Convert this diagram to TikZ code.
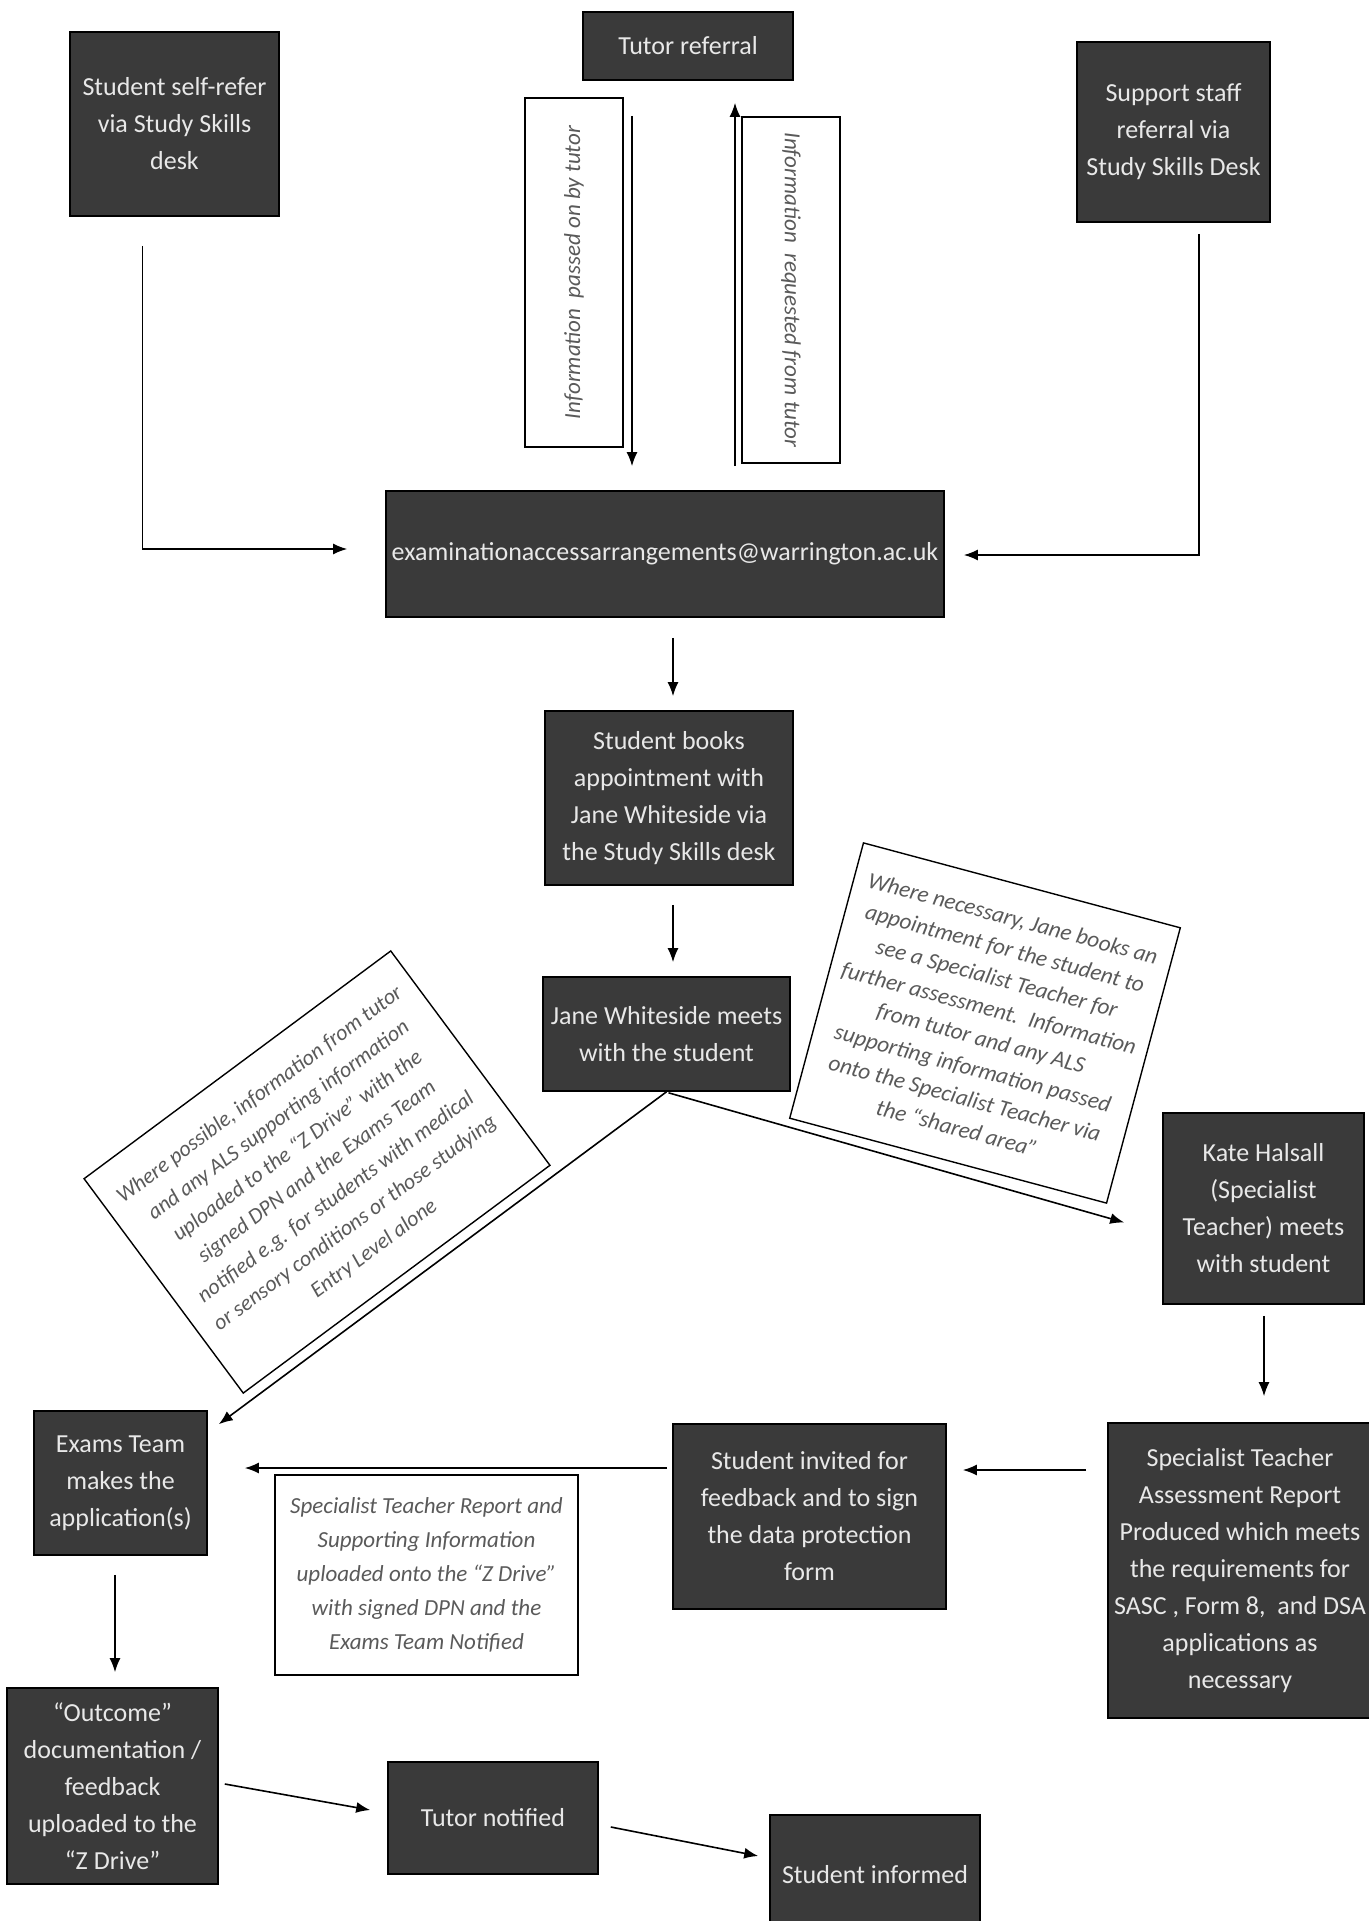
\documentclass[tikz,border=0pt]{standalone}
\usepackage{fontspec}
\setmainfont{Carlito}
\usetikzlibrary{calc,arrows.meta}

\definecolor{boxgray}{HTML}{3A3A3A}
\definecolor{boxtext}{HTML}{E8E8E8}
\definecolor{notetext}{HTML}{5A5A5A}

\tikzset{
	darkbox/.style={draw=black, line width=0.8pt, fill=boxgray, text=boxtext, align=center, inner sep=0pt, font=\fontsize{13}{18.5}\selectfont},
	notebox/.style={draw=black, line width=0.7pt, fill=white, text=notetext, align=center, inner sep=0pt, font=\fontsize{11}{16}\selectfont\itshape},
	link/.style={line width=0.8pt, -{Latex[length=7pt,width=5.5pt]}},
}

\begin{document}
\begin{tikzpicture}[x=0.5pt,y=-0.5pt]
	\fill[white] (0,0) rectangle (1369,1921);
	\useasboundingbox (0,0) rectangle (1369,1921);
	
	%referrals
	\node[darkbox, minimum width=104.5pt, minimum height=92pt] (selfref) at (174.5,124) {Student self-refer\\via Study Skills\\desk};
	\node[darkbox, minimum width=105pt, minimum height=34pt] (tutorref) at (688,46) {Tutor referral};
	\node[darkbox, minimum width=96.5pt, minimum height=90pt] (support) at (1173.5,132) {Support staff\\referral via\\Study Skills Desk};
	%
	\node[notebox, rotate=90, minimum width=174.5pt, minimum height=49pt, font=\fontsize{11.5}{16}\selectfont\itshape] (passed) at (574,272.5) {Information\ \ passed on by tutor};
	\node[notebox, rotate=-90, minimum width=173pt, minimum height=49pt, font=\fontsize{11.5}{16}\selectfont\itshape] (request) at (791,290) {Information\ \ requested from tutor};
	
	%main column
	\node[darkbox, minimum width=279pt, minimum height=63pt] (email) at (665,554) {examinationaccessarrangements@warrington.ac.uk};
	\node[darkbox, minimum width=124pt, minimum height=87pt] (books) at (669,798) {Student books\\appointment with\\Jane Whiteside via\\the Study Skills desk};
	\node[darkbox, minimum width=123.5pt, minimum height=57pt] (jane) at (666.5,1034) {Jane Whiteside meets\\with the student};
	
	%tilted notes
	\node[notebox, rotate=36.6, minimum width=191pt, minimum height=133.5pt] (possible) at (317,1172) {Where possible, information from tutor\\and any ALS supporting information\\uploaded to the ``Z Drive'' with the\\signed DPN and the Exams Team\\notified e.g. for students with medical\\or sensory conditions or those studying\\Entry Level alone};
	\node[notebox, rotate=-15, minimum width=164pt, minimum height=142.5pt, font=\fontsize{11.5}{15.5}\selectfont\itshape] (necessary) at (985,1023) {Where necessary, Jane books an\\appointment for the student to\\see a Specialist Teacher for\\further assessment.\ \ Information\\from tutor and any ALS\\supporting information passed\\onto the Specialist Teacher via\\the ``shared area''};
	
	%specialist side
	\node[darkbox, minimum width=100.5pt, minimum height=95.5pt] (kate) at (1263.5,1208.5) {Kate Halsall\\(Specialist\\Teacher) meets\\with student};
	\node[darkbox, minimum width=132pt, minimum height=147.5pt] (report) at (1240,1570.5) {Specialist Teacher\\Assessment Report\\Produced which meets\\the requirements for\\SASC , Form 8,\ \ and DSA\\applications as\\necessary};
	\node[darkbox, minimum width=136.5pt, minimum height=92.5pt] (invited) at (809.5,1516.5) {Student invited for\\feedback and to sign\\the data protection\\form};
	\node[notebox, minimum width=151.5pt, minimum height=100pt, font=\fontsize{11.5}{17}\selectfont\itshape] (upload) at (426.5,1575) {Specialist Teacher Report and\\Supporting Information\\uploaded onto the ``Z Drive''\\with signed DPN and the\\Exams Team Notified};
	
	%exams and outcome
	\node[darkbox, minimum width=86.5pt, minimum height=72pt] (exams) at (120.5,1483) {Exams Team\\makes the\\application(s)};
	\node[darkbox, minimum width=105.5pt, minimum height=98pt] (outcome) at (112.5,1786) {``Outcome''\\documentation /\\feedback\\uploaded to the\\``Z Drive''};
	\node[darkbox, minimum width=105pt, minimum height=56pt] (tutornot) at (493,1818) {Tutor notified};
	\node[darkbox, minimum width=105pt, minimum height=60pt] (informed) at (875,1875) {Student informed};
	
	%connectors
	\draw[link] ($(selfref.south)+(-32,29)$) |- ($(email.west)+(-38,-5)$);
	\draw[link] ($(support.south)+(25.5,11)$) |- ($(email.east)+(19,1)$);
	\draw[link] ($(tutorref.south)+(-56,35)$) -- ($(email.north)+(-33,-24)$);
	\draw[link] ($(email.north)+(70,-24)$) -- ($(tutorref.south)+(47,22)$);
	%
	\draw[link] ($(email.south)+(8,20)$) -- ($(books.north)+(4,-14)$);
	\draw[link] ($(books.south)+(4,19)$) -- ($(jane.north)+(6.5,-14)$);
	\draw[link] (jane.south) -- ($(exams.north east)+(11,14)$);
	\draw[link] ($(jane.south)+(2,1)$) -- ($(kate.west)+(-38,14)$);
	%
	\draw[link] ($(kate.south)+(0.5,11)$) -- ($(report.north)+(24,-26)$);
	\draw[link] ($(report.west)+(-21,-100.5)$) -- ($(invited.east)+(16,-46.5)$);
	\draw[link] ($(invited.west)+(-5,-48.5)$) -- ($(exams.east)+(37,-15)$);
	\draw[link] ($(exams.south)+(-5.5,19)$) -- ($(outcome.north)+(2.5,-15)$);
	\draw[link] ($(outcome.east)+(6,-2)$) -- ($(tutornot.west)+(-17,-8)$);
	\draw[link] ($(tutornot.east)+(12,9)$) -- ($(informed.west)+(-11,-19)$);
\end{tikzpicture}
\end{document}
